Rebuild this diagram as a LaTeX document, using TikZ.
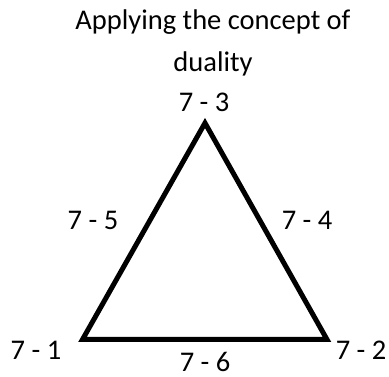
\documentclass[tikz,border=0pt]{standalone}
\usepackage{fontspec}
\setmainfont{Carlito}
\begin{document}
\begin{tikzpicture}[x=1pt,y=-1pt,
  lbl/.style={font=\fontsize{28.5}{34}\selectfont, inner sep=0pt, anchor=base}]
\useasboundingbox (0,0) rectangle (389,377);
\node[lbl] (t1) at (213,30) {Applying the concept of};
\node[lbl] (t2) at (213,72) {duality};
\coordinate (a) at (205,123);
\coordinate (b) at (82.5,339.5);
\coordinate (c) at (327,339.5);
\draw[line width=5pt, line join=miter] (a) -- (b) -- (c) -- cycle;
\node[lbl] (l3) at (204,112) {7 - 3};
\node[lbl] (l5) at (93,230) {7 - 5};
\node[lbl] (l4) at (307,230) {7 - 4};
\node[lbl] (l1) at (36,360) {7 - 1};
\node[lbl] (l2) at (361,360) {7 - 2};
\node[lbl] (l6) at (205,372) {7 - 6};
\end{tikzpicture}
\end{document}
